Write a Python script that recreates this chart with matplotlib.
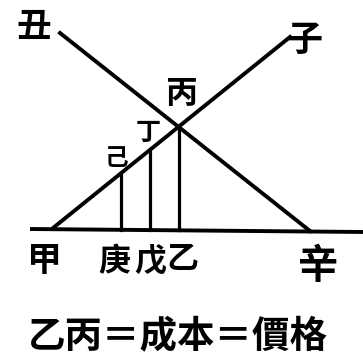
import matplotlib
matplotlib.use('Agg')
import matplotlib.pyplot as plt

plt.rcParams['font.family'] = ['Noto Sans CJK TC', 'DejaVu Sans']

# Points of the diagram (pixel coordinates, y downward)
base_x = [30, 363]
base_y = [229, 232]
rise_x = [53, 290]      # 甲 -> 子
rise_y = [228, 37]
fall_x = [60, 310]      # 丑 -> 辛
fall_y = [33, 231]
vert_x = [121, 150, 179]
vert_top = [173, 150, 126]
vert_bot = [230, 230, 230]

labels = ['丑', '子', '丙', '丁', '己', '甲', '庚', '戊', '乙', '辛']
label_x = [34, 304, 181, 148, 117, 44, 114, 150, 182, 318]
label_y = [26, 40, 94, 133, 158, 260, 262, 262, 260, 266]
label_size = [25, 26, 23, 18, 17, 25, 23, 23, 23, 29]

caption = '乙丙＝成本＝價格'

fig = plt.figure(figsize=(3.63, 3.62), dpi=100)
ax = fig.add_axes([0, 0, 1, 1])
ax.set_xlim(0, 363)
ax.set_ylim(362, 0)
ax.axis('off')

ax.plot(base_x, base_y, color='black', lw=2.8, solid_capstyle='butt')
ax.plot(rise_x, rise_y, color='black', lw=2.8)
ax.plot(fall_x, fall_y, color='black', lw=2.8)
for x, t, b in zip(vert_x, vert_top, vert_bot):
    ax.plot([x, x], [t, b], color='black', lw=2.3)

for s, x, y, fs in zip(labels, label_x, label_y, label_size):
    ax.text(x, y, s, fontsize=fs, fontweight='bold', ha='center', va='center')

ax.text(178, 337, caption, fontsize=27, fontweight='bold', ha='center', va='center')

fig.savefig('out.png', dpi=100)
